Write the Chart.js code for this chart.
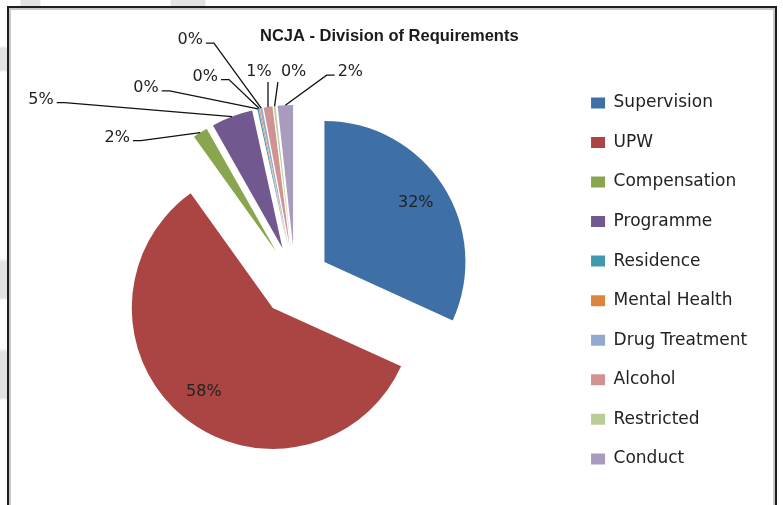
<!DOCTYPE html>
<html>
<head>
<meta charset="utf-8">
<script src="https://cdn.jsdelivr.net/npm/chart.js@4.4.1/dist/chart.umd.min.js"></script>
<style>
    html, body {
        margin: 0;
        padding: 0;
    }
    body {
        width: 783px;
        height: 505px;
        overflow: hidden;
        position: relative;
        background: #fff;
    }
    /* faint grey bands peeking out round the frame */
    #bandsLeft {
        position: absolute;
        left: 0;
        top: 0;
        width: 7px;
        height: 505px;
        background: linear-gradient(to bottom, #e1e2e4 0px, #fff 8px, #fff 46px, #e1e2e4 48px, #e1e2e4 70px,
            #fff 72px, #fff 258px, #e1e2e4 262px, #e1e2e4 298px, #fff 300px, #fff 348px, #e1e2e4 352px,
            #e1e2e4 398px, #fff 400px);
    }
    #bandsTop {
        position: absolute;
        left: 0;
        top: 0;
        width: 783px;
        height: 6px;
        background: linear-gradient(to right, #fff 0px, #fff 20px, #e1e2e4 21px, #e1e2e4 40px, #fff 41px,
            #fff 170px, #e1e2e4 171px, #e1e2e4 205px, #fff 206px);
    }
    #frame {
        position: absolute;
        left: 7px;
        top: 6px;
        width: 766px;
        height: 560px;
        background: #fff;
        border: 2px solid #1e1e1e;
        border-bottom: none;
        box-shadow: inset 2px 2px 0 #c8c8c8, inset -2px 0 0 #c8c8c8;
    }
    #reqChart {
        position: absolute;
        left: 0;
        top: 0;
    }
</style>
</head>
<body>
<div id="bandsLeft"></div>
<div id="bandsTop"></div>
<div id="frame"></div>
<canvas id="reqChart" width="783" height="505"></canvas>
<script>
const requirementTypes = ['Supervision', 'UPW', 'Compensation', 'Programme', 'Residence',
    'Mental Health', 'Drug Treatment', 'Alcohol', 'Restricted', 'Conduct'];
const requirementShare = [31.8, 58.3, 1.7, 4.75, 0.15, 0.1, 0.25, 1.0, 0.2, 1.75];
const sliceColours = ['#3e6fa6', '#aa4543', '#89a54e', '#71588f', '#4198af',
    '#db843d', '#93a9cf', '#d19392', '#b9cd96', '#a99bbd'];

// where the outside labels sit, relative to the edge of their slice (null = inside)
const labelShift = [null, null, [-83, 5], [-191, -17], [-112, -21], [-54, -32],
    [-71, -68], [-9, -35], [19, -34], [65, -33]];

const EXPLODE = 35;
const PIE_RADIUS = 141;
const PIE_CENTRE_X = 295;
const LABEL_FONT = '16px "DejaVu Sans"';

// draw each slice pushed out along its own middle angle
const explodeSlices = {
    id: 'explodeSlices',
    beforeDatasetDraw(chart, args) {
        const ctx = chart.ctx;
        args.meta.data.forEach(arc => {
            const mid = (arc.startAngle + arc.endAngle) / 2;
            ctx.save();
            ctx.translate(Math.cos(mid) * EXPLODE, Math.sin(mid) * EXPLODE);
            arc.draw(ctx, chart.chartArea);
            ctx.restore();
        });
        return false;
    }
};

const percentLabels = {
    id: 'percentLabels',
    afterDatasetsDraw(chart) {
        const ctx = chart.ctx;
        const meta = chart.getDatasetMeta(0);
        const values = chart.data.datasets[0].data;
        const total = values.reduce((a, b) => a + b, 0);
        ctx.save();
        ctx.font = LABEL_FONT;
        ctx.fillStyle = '#222';
        ctx.strokeStyle = '#111';
        ctx.lineWidth = 1.3;
        ctx.textAlign = 'center';
        ctx.textBaseline = 'middle';
        meta.data.forEach((arc, i) => {
            const mid = (arc.startAngle + arc.endAngle) / 2;
            const cx = arc.x + Math.cos(mid) * EXPLODE;
            const cy = arc.y + Math.sin(mid) * EXPLODE;
            const text = Math.round(values[i] / total * 100) + '%';
            const shift = labelShift[i];
            if (!shift) {
                const r = arc.outerRadius * 0.77;
                ctx.fillText(text, cx + Math.cos(mid) * r, cy + Math.sin(mid) * r);
                return;
            }
            const ax = cx + Math.cos(mid) * arc.outerRadius;
            const ay = cy + Math.sin(mid) * arc.outerRadius;
            const tx = ax + shift[0];
            const ty = ay + shift[1];
            const half = ctx.measureText(text).width / 2 + 3;
            const left = tx - half, right = tx + half, bottom = ty + 10;

            ctx.beginPath();
            if (ay > bottom + 10 && ax > left - 12 && ax < right + 12) {
                ctx.moveTo(Math.min(Math.max(ax, left), right), bottom);
            } else if (ax > right) {
                ctx.moveTo(right, ty + 3);
                ctx.lineTo(right + 8, ty + 3);
            } else {
                ctx.moveTo(left, ty + 3);
                ctx.lineTo(left - 8, ty + 3);
            }
            ctx.lineTo(ax, ay);
            ctx.stroke();
            ctx.fillText(text, tx, ty);
        });
        ctx.restore();
    }
};

const reqChart = new Chart(document.getElementById('reqChart'), {
    type: 'pie',
    data: {
        labels: requirementTypes,
        datasets: [{
            data: requirementShare,
            backgroundColor: sliceColours,
            borderWidth: 0
        }]
    },
    options: {
        responsive: false,
        animation: false,
        radius: PIE_RADIUS,
        layout: {
            padding: { left: PIE_CENTRE_X - 273.5, right: 0, top: 0, bottom: 0 }
        },
        plugins: {
            title: {
                display: true,
                text: 'NCJA - Division of Requirements',
                color: '#1a1a1a',
                font: { family: '"Liberation Sans"', size: 16.5, weight: 'bold' },
                padding: { top: 27, bottom: 10 }
            },
            legend: {
                position: 'right',
                fullSize: false,
                labels: {
                    boxWidth: 14,
                    boxHeight: 11,
                    padding: 22.56,
                    color: '#222',
                    font: { family: '"DejaVu Sans"', size: 17 }
                }
            },
            tooltip: { enabled: false }
        }
    },
    plugins: [explodeSlices, percentLabels]
});

// legend column starts at x = 568.5, so the pie centre lands at PIE_CENTRE_X
reqChart.options.layout.padding.right = 783 - 568.5 - reqChart.legend.width;
reqChart.update();
</script>
</body>
</html>
